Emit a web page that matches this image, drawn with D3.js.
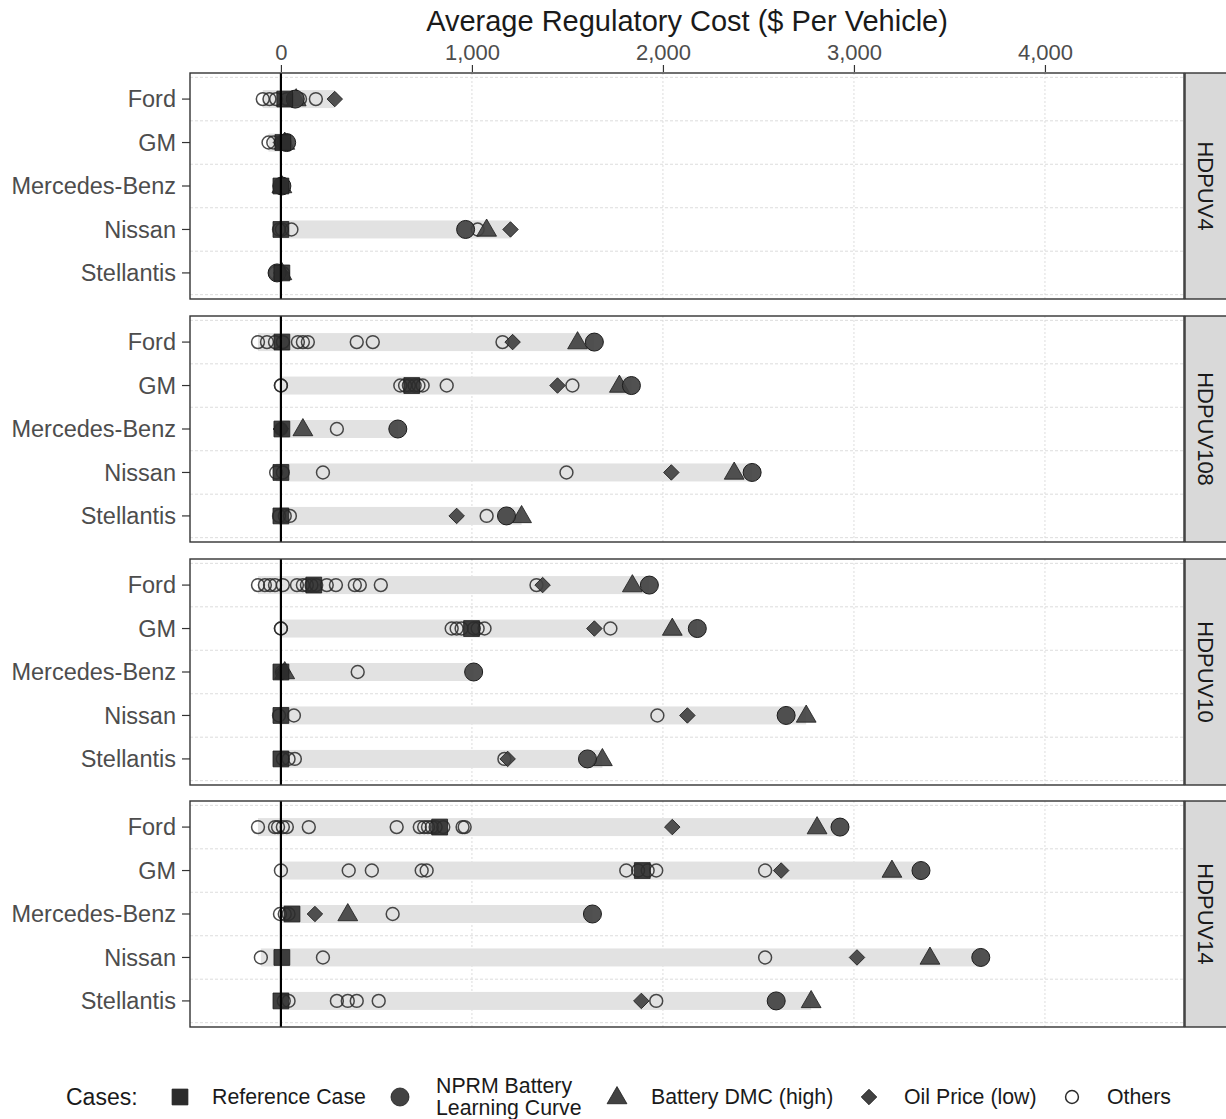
<!DOCTYPE html>
<html>
<head>
<meta charset="utf-8">
<script src="https://cdn.jsdelivr.net/npm/d3@7"></script>
<style>
  html, body { margin: 0; padding: 0; background: #fff; }
  svg { display: block; font-family: "Liberation Sans", Arial, sans-serif; }
</style>
</head>
<body>
<svg id="chart" width="1226" height="1119"></svg>
<script>
// ---------- DATA ----------
const panels = ["HDPUV4", "HDPUV108", "HDPUV10", "HDPUV14"];
const companies = ["Ford", "GM", "Mercedes-Benz", "Nissan", "Stellantis"];
const xTicks = [0, 1000, 2000, 3000, 4000];

// one row per panel, values per company (Ford, GM, Mercedes-Benz, Nissan, Stellantis)
const referenceCase = [
  [20, 10, 0, 0, 5],
  [5, 685, 5, 0, 0],
  [172, 998, 0, 0, 0],
  [831, 1892, 58, 5, 0]
];
const nprmBatteryLearningCurve = [
  [75, 30, 5, 967, -20],
  [1641, 1835, 612, 2467, 1181],
  [1929, 2180, 1009, 2645, 1605],
  [2927, 3351, 1631, 3664, 2593]
];
const batteryDmcHigh = [
  [80, 20, 5, 1077, 5],
  [1553, 1772, 115, 2373, 1260],
  [1840, 2049, 20, 2750, 1683],
  [2807, 3199, 350, 3398, 2776]
];
const oilPriceLow = [
  [282, 0, 0, 1202, 0],
  [1213, 1448, 0, 2044, 920],
  [1370, 1641, 10, 2128, 1187],
  [2049, 2619, 178, 3016, 1887]
];
const others = [
  [
    [-95, -60, -25, 30, 100, 183],
    [-65, -40, 0, 20],
    [0, 5],
    [-10, 5, 55, 1030],
    [-30, 10]
  ],
  [
    [-120, -73, -31, 10, 89, 115, 141, 397, 481, 1160],
    [0, 0, 625, 650, 670, 700, 720, 742, 868, 1526],
    [0, 293],
    [-25, 10, 220, 1495],
    [-10, 20, 47, 1077]
  ],
  [
    [-120, -84, -57, -31, 10, 84, 115, 136, 160, 185, 240, 288, 387, 413, 523, 1338],
    [0, 0, 894, 920, 946, 1010, 1030, 1066, 1725],
    [5, 402],
    [-10, 68, 1971],
    [10, 40, 73, 1170]
  ],
  [
    [-120, -31, -15, 10, 31, 146, 606, 727, 750, 770, 790, 810, 850, 951, 962],
    [0, 355, 476, 737, 763, 1808, 1870, 1920, 1965, 2535],
    [-5, 20, 40, 585],
    [-105, 220, 2535],
    [15, 40, 293, 350, 397, 512, 1965]
  ]
];
const legendLabels = ["Reference Case", "NPRM Battery\nLearning Curve", "Battery DMC (high)", "Oil Price (low)", "Others"];

// ---------- LAYOUT ----------
const svg = d3.select("#chart");
const plotLeft = 190, plotRight = 1184;
const panelTops = [73, 316, 559, 801];
const panelH = 226;
const stripW = 42;

const x = d3.scaleLinear().domain([-476, 4728]).range([plotLeft, plotRight]);
// discrete positions with ggplot-style expansion of 0.6
const yPos = d3.scaleLinear().domain([0.4, 5.6]).range([0, panelH]);

const axisColor = "#4d4d4d";
const markFill = "#424242";
const markStroke = "#1c1c1c";

const sym = {
  square: d3.symbol().type(d3.symbolSquare).size(250)(),
  circle: d3.symbol().type(d3.symbolCircle).size(255)(),
  triangle: d3.symbol().type(d3.symbolTriangle).size(170)(),
  diamond: d3.symbol().type(d3.symbolSquare).size(120)(),
  hollow: d3.symbol().type(d3.symbolCircle).size(130)()
};

// Title
svg.append("text")
  .attr("x", (plotLeft + plotRight) / 2).attr("y", 31)
  .attr("text-anchor", "middle")
  .attr("font-size", 29).attr("fill", "#1a1a1a")
  .text("Average Regulatory Cost ($ Per Vehicle)");

// Top axis
const topAxis = d3.axisTop(x).tickValues(xTicks).tickFormat(d3.format(",")).tickSize(7).tickPadding(5);
const ax = svg.append("g").attr("transform", `translate(0,${panelTops[0] - 1})`).call(topAxis);
ax.select(".domain").remove();
ax.selectAll(".tick line").attr("stroke", "#333").attr("stroke-width", 1.2);
ax.selectAll(".tick text").attr("font-size", 22).attr("fill", axisColor).attr("font-family", "Liberation Sans, Arial, sans-serif");

panels.forEach((panel, pi) => {
  const g = svg.append("g").attr("transform", `translate(0,${panelTops[pi]})`);

  g.append("rect").attr("x", plotLeft).attr("y", 0).attr("width", plotRight - plotLeft).attr("height", panelH).attr("fill", "#fff");

  // minor horizontal gridlines (between rows)
  d3.range(0.5, 6, 1).forEach(v => {
    g.append("line").attr("x1", plotLeft).attr("x2", plotRight)
      .attr("y1", yPos(v)).attr("y2", yPos(v))
      .attr("stroke", "#d4d4d4").attr("stroke-width", 0.8).attr("stroke-dasharray", "3,2");
  });
  // vertical major gridlines
  xTicks.filter(t => t !== 0).forEach(t => {
    g.append("line").attr("x1", x(t)).attr("x2", x(t)).attr("y1", 0).attr("y2", panelH)
      .attr("stroke", "#d4d4d4").attr("stroke-width", 0.8).attr("stroke-dasharray", "2,2");
  });

  companies.forEach((c, ci) => {
    const cy = yPos(ci + 1);
    const vals = [referenceCase[pi][ci], nprmBatteryLearningCurve[pi][ci], batteryDmcHigh[pi][ci], oilPriceLow[pi][ci], ...others[pi][ci]];
    const lo = d3.min(vals), hi = d3.max(vals);
    g.append("rect").attr("x", x(lo)).attr("width", Math.max(0, x(hi) - x(lo)))
      .attr("y", cy - 9).attr("height", 18).attr("fill", "#e2e2e2");
  });

  companies.forEach((c, ci) => {
    const cy = yPos(ci + 1);
    others[pi][ci].forEach(v => {
      g.append("path").attr("d", sym.hollow).attr("transform", `translate(${x(v)},${cy})`)
        .attr("fill", "none").attr("stroke", "#2a2a2a").attr("stroke-opacity", 0.85).attr("stroke-width", 1.5);
    });
    g.append("path").attr("d", sym.diamond).attr("transform", `translate(${x(oilPriceLow[pi][ci])},${cy}) rotate(45)`)
      .attr("fill", markFill).attr("fill-opacity", 0.92).attr("stroke", markStroke).attr("stroke-width", 0.8);
    g.append("path").attr("d", sym.triangle).attr("transform", `translate(${x(batteryDmcHigh[pi][ci])},${cy + 1})`)
      .attr("fill", markFill).attr("fill-opacity", 0.92).attr("stroke", markStroke).attr("stroke-width", 0.8);
    g.append("path").attr("d", sym.circle).attr("transform", `translate(${x(nprmBatteryLearningCurve[pi][ci])},${cy})`)
      .attr("fill", markFill).attr("fill-opacity", 0.92).attr("stroke", markStroke).attr("stroke-width", 1);
    g.append("path").attr("d", sym.square).attr("transform", `translate(${x(referenceCase[pi][ci])},${cy})`)
      .attr("fill", "#2b2b2b").attr("fill-opacity", 0.9).attr("stroke", markStroke).attr("stroke-width", 0.8);
  });

  // zero line
  g.append("line").attr("x1", x(0)).attr("x2", x(0)).attr("y1", 0).attr("y2", panelH)
    .attr("stroke", "#000").attr("stroke-width", 2.2);

  // panel border
  g.append("rect").attr("x", plotLeft).attr("y", 0).attr("width", plotRight - plotLeft).attr("height", panelH)
    .attr("fill", "none").attr("stroke", "#333").attr("stroke-width", 1.4);

  // left axis
  companies.forEach((c, ci) => {
    const cy = yPos(ci + 1);
    g.append("line").attr("x1", plotLeft - 8).attr("x2", plotLeft).attr("y1", cy).attr("y2", cy)
      .attr("stroke", "#333").attr("stroke-width", 1.2);
    g.append("text").attr("x", plotLeft - 14).attr("y", cy).attr("dy", "0.35em")
      .attr("text-anchor", "end").attr("font-size", 23.5).attr("fill", axisColor).text(c);
  });

  // strip
  g.append("rect").attr("x", plotRight + 1).attr("y", 0).attr("width", stripW).attr("height", panelH)
    .attr("fill", "#d9d9d9").attr("stroke", "#333").attr("stroke-width", 1.4);
  g.append("text").attr("transform", `translate(${plotRight + 1 + stripW / 2},${panelH / 2}) rotate(90)`)
    .attr("text-anchor", "middle").attr("dy", "0.35em").attr("font-size", 22).attr("fill", "#1a1a1a").text(panel);
});

// ---------- LEGEND ----------
const ly = 1097;
const leg = svg.append("g");
leg.append("text").attr("x", 66).attr("y", ly).attr("dy", "0.35em").attr("font-size", 23).attr("fill", "#1a1a1a").text("Cases:");
const legItems = [
  { shape: "square", sx: 180, tx: 212, fill: "#2b2b2b" },
  { shape: "circle", sx: 400, tx: 436, fill: markFill },
  { shape: "triangle", sx: 617, tx: 651, fill: markFill },
  { shape: "diamond", sx: 869, tx: 904, fill: markFill },
  { shape: "hollow", sx: 1072, tx: 1107, fill: "none" }
];
legItems.forEach((it, i) => {
  const p = leg.append("path").attr("d", sym[it.shape])
    .attr("transform", `translate(${it.sx},${ly + (it.shape === "triangle" ? 1 : 0)})${it.shape === "diamond" ? " rotate(45)" : ""}`);
  if (it.shape === "hollow") p.attr("fill", "none").attr("stroke", "#2a2a2a").attr("stroke-width", 1.5);
  else p.attr("fill", it.fill).attr("stroke", markStroke).attr("stroke-width", 0.8);
  const lines = legendLabels[i].split("\n");
  const t = leg.append("text").attr("x", it.tx).attr("font-size", 21.3).attr("fill", "#1a1a1a");
  if (lines.length === 1) {
    t.attr("y", ly).attr("dy", "0.35em").text(lines[0]);
  } else {
    lines.forEach((ln, k) => {
      t.append("tspan").attr("x", it.tx).attr("y", ly - 11 + k * 22).attr("dy", "0.35em").text(ln);
    });
  }
});
</script>
</body>
</html>
